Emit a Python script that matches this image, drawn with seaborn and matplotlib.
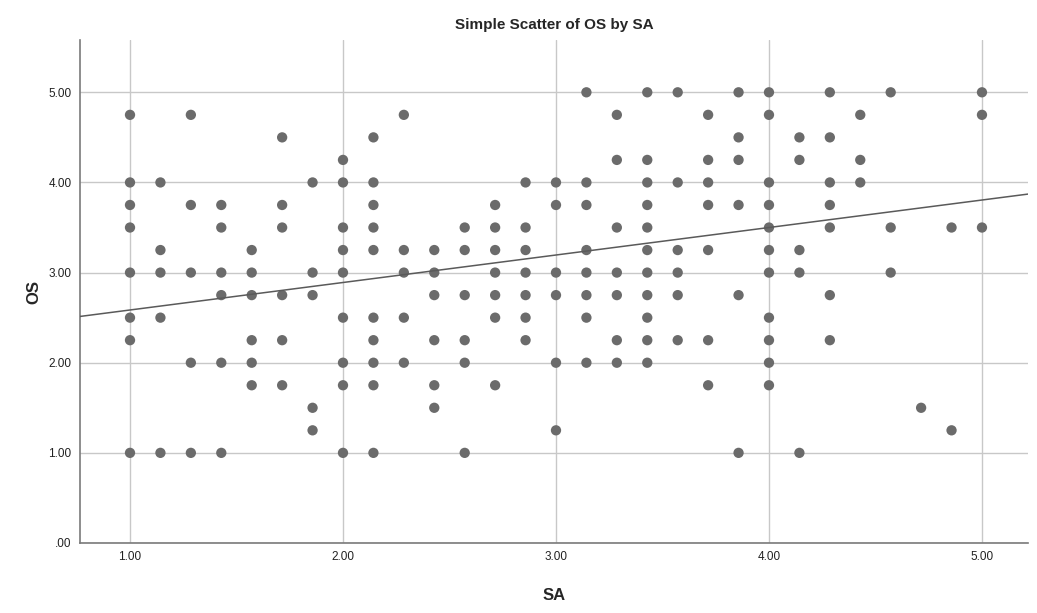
import matplotlib
matplotlib.use("Agg")
import matplotlib.pyplot as plt
import numpy as np
import pandas as pd
import seaborn as sns

# SA takes steps of 1/7, OS takes steps of 0.25 -- one list of OS per SA column
sa_steps = list(range(29))  # SA = 1 + k/7
os_by_col = [
    [4.75, 4.0, 3.75, 3.5, 3.0, 2.5, 2.25, 1.0],
    [4.0, 3.25, 3.0, 2.5, 1.0],
    [4.75, 3.75, 3.0, 2.0, 1.0],
    [3.75, 3.5, 3.0, 2.75, 2.0, 1.0],
    [3.25, 3.0, 2.75, 2.25, 2.0, 1.75],
    [4.5, 3.75, 3.5, 2.75, 2.25, 1.75],
    [4.0, 3.0, 2.75, 1.5, 1.25],
    [4.25, 4.0, 3.5, 3.25, 3.0, 2.5, 2.0, 1.75, 1.0],
    [4.5, 4.0, 3.75, 3.5, 3.25, 2.5, 2.25, 2.0, 1.75, 1.0],
    [4.75, 3.25, 3.0, 2.5, 2.0],
    [3.25, 3.0, 2.75, 2.25, 1.75, 1.5],
    [3.5, 3.25, 2.75, 2.25, 2.0, 1.0],
    [3.75, 3.5, 3.25, 3.0, 2.75, 2.5, 1.75],
    [4.0, 3.5, 3.25, 3.0, 2.75, 2.5, 2.25],
    [4.0, 3.75, 3.0, 2.75, 2.0, 1.25],
    [5.0, 4.0, 3.75, 3.25, 3.0, 2.75, 2.5, 2.0],
    [4.75, 4.25, 3.5, 3.0, 2.75, 2.25, 2.0],
    [5.0, 4.25, 4.0, 3.75, 3.5, 3.25, 3.0, 2.75, 2.5, 2.25, 2.0],
    [5.0, 4.0, 3.25, 3.0, 2.75, 2.25],
    [4.75, 4.25, 4.0, 3.75, 3.25, 2.25, 1.75],
    [5.0, 4.5, 4.25, 3.75, 2.75, 1.0],
    [5.0, 4.75, 4.0, 3.75, 3.5, 3.25, 3.0, 2.5, 2.25, 2.0, 1.75],
    [4.5, 4.25, 3.25, 3.0, 1.0],
    [5.0, 4.5, 4.0, 3.75, 3.5, 2.75, 2.25],
    [4.75, 4.25, 4.0],
    [5.0, 3.5, 3.0],
    [1.5],
    [3.5, 1.25],
    [5.0, 4.75, 3.5],
]

fit_intercept = 2.28
fit_slope = 0.305

sa_vals = []
os_vals = []
for k, col in zip(sa_steps, os_by_col):
    for v in col:
        sa_vals.append(1 + k / 7)
        os_vals.append(v)
df = pd.DataFrame({"SA": sa_vals, "OS": os_vals})

ticks = [0, 1, 2, 3, 4, 5]
tick_labels = [".00", "1.00", "2.00", "3.00", "4.00", "5.00"]

sns.set_style("white")
plt.rcParams["font.family"] = ["Liberation Sans", "DejaVu Sans"]

fig = plt.figure(figsize=(10.37, 6.13), dpi=100)
ax = fig.add_axes([0.0771, 0.1142, 0.9142, 0.8205])

sns.scatterplot(data=df, x="SA", y="OS", ax=ax, s=55, color="#6b6b6b",
                edgecolor="none", zorder=3)
ax.axline((0, fit_intercept), slope=fit_slope, color="#5a5a5a", linewidth=1.1, zorder=4)

ax.set_xlim(0.765, 5.216)
ax.set_ylim(0, 5.58)
ax.set_xticks(ticks[1:])
ax.set_xticklabels(tick_labels[1:])
ax.set_yticks(ticks)
ax.set_yticklabels(tick_labels)
ax.tick_params(axis="both", labelsize=8.5, colors="#222222", length=0, pad=6)
ax.grid(True, color="#c8c8c8", linewidth=1)
ax.set_axisbelow(True)

for s in ["top", "right"]:
    ax.spines[s].set_visible(False)
for s in ["left", "bottom"]:
    ax.spines[s].set_color("#7a7a7a")
    ax.spines[s].set_linewidth(1.2)

ax.set_xlabel("SA", fontsize=12, fontweight="bold", labelpad=18)
ax.set_ylabel("OS", fontsize=12, fontweight="bold", labelpad=5)
ax.set_title("Simple Scatter of OS by SA", fontsize=11, fontweight="bold", pad=8)

fig.savefig("out.png", dpi=100)
